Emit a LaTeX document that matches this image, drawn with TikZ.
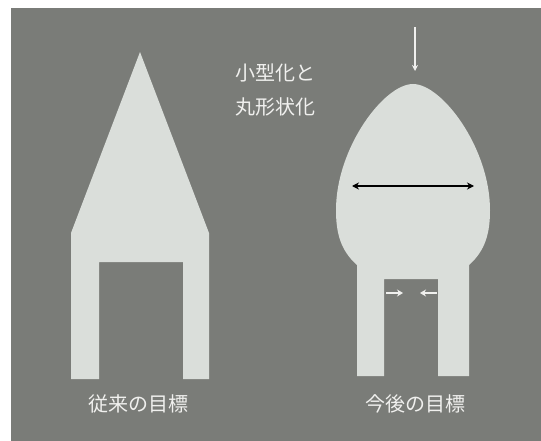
\documentclass[tikz,border=0pt]{standalone}
\usepackage{fontspec}
\newfontfamily\cjk{Noto Sans CJK JP}
\usetikzlibrary{arrows.meta}
\definecolor{bggray}{RGB}{122,124,120}
\definecolor{shape}{RGB}{218,222,218}
\definecolor{txt}{RGB}{240,240,238}
\tikzset{
  body/.style={fill=shape, draw=none},
  lbl/.style={text=txt, font=\cjk\fontsize{20}{34}\selectfont, inner sep=0pt},
  whitearrow/.style={draw=txt, line width=1.3pt, -{Stealth[length=6pt,width=6pt]}},
  smallarrow/.style={draw=txt, line width=2pt, -{Stealth[length=6pt,width=7pt]}},
  blackarrow/.style={draw=black, line width=1.6pt, {Stealth[length=7pt,width=7pt]}-{Stealth[length=7pt,width=7pt]}}
}
\begin{document}
\begin{tikzpicture}[x=1pt,y=-1pt]
\useasboundingbox (0,0) rectangle (541,441);
\fill[white] (0,0) rectangle (541,441);
\fill[bggray] (11,8) rectangle (541,441);
% conventional shape
\path[body] (140,52) -- (209,233) -- (209,379) -- (183,379) -- (183,262) -- (99,262) -- (99,379) -- (71,379) -- (71,233) -- cycle;
% future shape
\path[body] (357,265) .. controls (340,250) and (336,232) .. (336,210)
  .. controls (336,148) and (384,84) .. (413,84)
  .. controls (442,84) and (490,148) .. (490,210)
  .. controls (490,232) and (486,250) .. (469,265)
  -- (469,376) -- (438,376) -- (438,279) -- (384,279) -- (384,376) -- (357,376) -- cycle;
% labels
\node[lbl, align=left] (top) at (275,90) {小型化と\\丸形状化};
\node[lbl] (old) at (138,404) {従来の目標};
\node[lbl] (new) at (415,404) {今後の目標};
% arrows
\coordinate (dA) at (415,27);
\coordinate (dB) at (415,71);
\draw[whitearrow] (dA) -- (dB);
\coordinate (wL) at (352,186);
\coordinate (wR) at (474,186);
\draw[blackarrow] (wL) -- (wR);
\coordinate (gL1) at (386,293);
\coordinate (gL2) at (403,293);
\coordinate (gR1) at (437,293);
\coordinate (gR2) at (420,293);
\draw[smallarrow] (gL1) -- (gL2);
\draw[smallarrow] (gR1) -- (gR2);
\end{tikzpicture}
\end{document}
